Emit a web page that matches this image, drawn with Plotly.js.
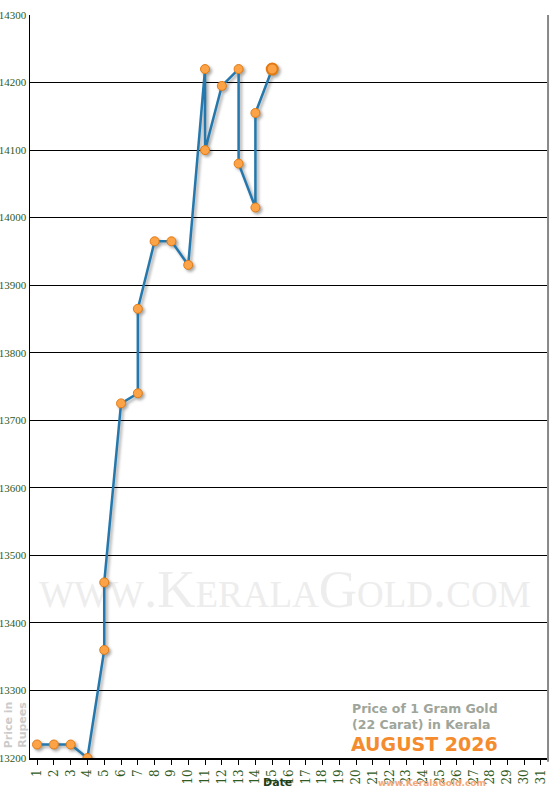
<!DOCTYPE html>
<html>
<head>
<meta charset="utf-8">
<script src="https://cdn.plot.ly/plotly-3.0.1.min.js"></script>
<style>
  html, body { margin: 0; padding: 0; background: #fff; }
  #chart { width: 550px; height: 800px; }
  /* soft drop shadow under line and dots, like the original */
  #chart .scatterlayer .trace { filter: drop-shadow(2px 2px 1.5px rgba(0,0,0,0.35)); }
</style>
</head>
<body>
<div id="chart"></div>
<script>
// daily rates, some days changed twice
const dates = [1, 2, 3, 4, 5, 5, 6, 7, 7, 8, 9, 10, 11, 11, 12, 13, 13, 14, 14, 15];
const prices = [13220, 13220, 13220, 13200, 13360, 13460, 13725, 13740, 13865, 13965,
                13965, 13930, 14220, 14100, 14195, 14220, 14080, 14015, 14155, 14220];
const dayTicks = Array.from({ length: 31 }, (_, i) => i + 1);
const priceTicks = [13200, 13300, 13400, 13500, 13600, 13700, 13800, 13900, 14000, 14100, 14200, 14300];

const green = '#2f5a22';
const lastIdx = prices.length - 1;

const trace = {
  x: dates,
  y: prices,
  mode: 'lines+markers',
  type: 'scatter',
  line: { color: '#2478ad', width: 2.5 },
  marker: {
    color: '#fca348',
    opacity: 1,
    size: dates.map((d, i) => i === lastIdx ? 11 : 9),
    line: { color: '#e07a12', width: dates.map((d, i) => i === lastIdx ? 2 : 1) }
  },
  hoverinfo: 'x+y'
};

const layout = {
  width: 550,
  height: 800,
  margin: { l: 30, r: 3, t: 15, b: 42 },
  paper_bgcolor: '#fff',
  plot_bgcolor: '#fff',
  showlegend: false,
  xaxis: {
    range: [0.58, 31.36],
    tickvals: dayTicks,
    ticktext: dayTicks.map(String),
    tickangle: -90,
    ticks: 'outside',
    ticklen: 5,
    tickcolor: '#000',
    showgrid: false,
    zeroline: false,
    showline: true,
    linecolor: '#000',
    linewidth: 1.5,
    tickfont: { family: 'DejaVu Serif', size: 12, color: green }
  },
  yaxis: {
    range: [13200, 14300],
    tickvals: priceTicks,
    ticktext: priceTicks.map(String),
    ticks: '',
    showgrid: true,
    gridcolor: '#000',
    gridwidth: 1,
    zeroline: false,
    showline: true,
    linecolor: '#000',
    linewidth: 1.5,
    tickfont: { family: 'Liberation Serif', size: 11, color: green }
  },
  shapes: [
    { type: 'line', xref: 'paper', yref: 'paper', x0: 1.002, x1: 1.002, y0: 1, y1: -0.005,
      line: { color: '#888', width: 2 } },
    // watermark sits under the grid and the line
    { type: 'rect', xref: 'paper', yref: 'paper', x0: 0, x1: 0.986, y0: 0.192, y1: 0.278,
      layer: 'below', line: { width: 0 }, fillcolor: 'rgba(0,0,0,0)',
      label: { text: 'www.KeralaGold.com', textposition: 'middle center',
               font: { family: 'Liberation Serif', size: 53, color: '#ededed', variant: 'small-caps' } } }
  ],
  annotations: [
    { text: 'Price of 1 Gram Gold<br>(22 Carat) in Kerala', xref: 'paper', yref: 'paper',
      x: 0.619, y: 0.079, xanchor: 'left', yanchor: 'top', align: 'left', showarrow: false,
      font: { family: 'DejaVu Sans', size: 12.5, color: '#9ea59a', weight: 'bold' } },
    { text: 'AUGUST 2026', xref: 'paper', yref: 'paper', x: 0.617, y: 0.019,
      xanchor: 'left', yanchor: 'middle', showarrow: false,
      font: { family: 'DejaVu Sans', size: 19, color: '#f48c2e', weight: 'bold' } },
    { text: 'Price in<br>Rupees', xref: 'paper', yref: 'paper', x: -0.029, y: 0.044,
      textangle: -90, showarrow: false, xanchor: 'center', yanchor: 'middle',
      font: { family: 'DejaVu Sans', size: 11, color: '#cbcbcb', weight: 'bold' } },
    { text: 'Date', xref: 'paper', yref: 'paper', x: 0.478, y: -0.0444, showarrow: false,
      font: { family: 'DejaVu Sans', size: 11, color: '#1f3d16', weight: 'bold' } },
    { text: 'www.KeralaGold.com', xref: 'paper', yref: 'paper', x: 0.886, y: -0.043, showarrow: false,
      font: { family: 'DejaVu Sans', size: 9, color: '#f5a77a', weight: 'bold' } }
  ]
};

Plotly.newPlot('chart', [trace], layout, { displayModeBar: false, staticPlot: true });
</script>
</body>
</html>
